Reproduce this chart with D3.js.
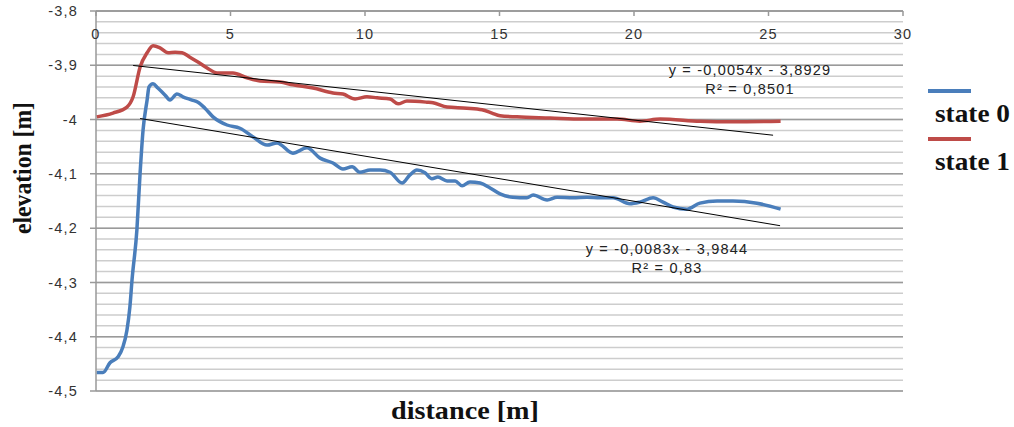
<!DOCTYPE html>
<html>
<head>
<meta charset="utf-8">
<script src="https://cdn.jsdelivr.net/npm/d3@7"></script>
<style>
  html, body { margin: 0; padding: 0; background: #fff; }
  svg text { font-family: "Liberation Sans", Arial, sans-serif; letter-spacing: 1.2px; }
  svg text.title { font-family: "Liberation Serif", "Times New Roman", serif; font-weight: bold; fill: #111; letter-spacing: 0; }
</style>
</head>
<body>
<svg id="chart" width="1014" height="427"></svg>
<script>
// state 0 (blue)
const dist0 = [0.03, 0.26, 0.52, 0.82, 1.00, 1.15, 1.26, 1.34, 1.52, 1.64, 1.75, 1.90, 1.97, 2.12, 2.30,
  2.57, 2.75, 3.01, 3.23, 3.57, 3.79, 4.05, 4.35, 4.87, 5.35, 5.84, 6.36, 6.73, 7.32, 7.84, 8.33, 8.81,
  9.18, 9.52, 9.81, 10.19, 10.56, 10.93, 11.38, 11.67, 11.93, 12.23, 12.49, 12.71, 13.05, 13.35, 13.61,
  13.90, 14.28, 14.65, 15.02, 15.50, 16.02, 16.25, 16.77, 17.14, 17.73, 18.25, 18.74, 19.22, 19.85,
  20.22, 20.71, 21.08, 21.45, 21.97, 22.45, 23.09, 23.68, 24.57, 25.45];
const elev0 = [-4.466, -4.466, -4.448, -4.437, -4.419, -4.388, -4.345, -4.295, -4.203, -4.098, -4.019,
  -3.964, -3.940, -3.934, -3.942, -3.955, -3.964, -3.953, -3.958, -3.964, -3.968, -3.979, -3.995, -4.010,
  -4.016, -4.032, -4.047, -4.043, -4.062, -4.052, -4.071, -4.080, -4.091, -4.087, -4.097, -4.093, -4.093,
  -4.097, -4.117, -4.102, -4.093, -4.098, -4.109, -4.106, -4.113, -4.113, -4.122, -4.115, -4.117, -4.126,
  -4.137, -4.143, -4.144, -4.139, -4.148, -4.143, -4.144, -4.143, -4.144, -4.144, -4.155, -4.152, -4.144,
  -4.152, -4.161, -4.165, -4.154, -4.150, -4.150, -4.154, -4.165];

// state 1 (red)
const dist1 = [0.03, 0.63, 1.15, 1.38, 1.64, 1.90, 2.12, 2.38, 2.68, 2.94, 3.20, 3.49, 3.79, 4.13, 4.50,
  5.09, 5.61, 6.10, 6.84, 7.32, 8.07, 8.81, 9.18, 9.63, 10.07, 10.45, 10.93, 11.23, 11.56, 12.30, 12.53,
  13.05, 13.79, 14.35, 14.72, 15.02, 15.65, 16.88, 18.10, 19.37, 20.22, 20.97, 22.45, 23.68, 25.45];
const elev1 = [-3.995, -3.988, -3.977, -3.958, -3.903, -3.877, -3.864, -3.868, -3.877, -3.876, -3.877,
  -3.885, -3.894, -3.905, -3.914, -3.914, -3.923, -3.929, -3.931, -3.936, -3.942, -3.951, -3.953, -3.962,
  -3.958, -3.960, -3.962, -3.971, -3.966, -3.968, -3.969, -3.977, -3.979, -3.982, -3.988, -3.993, -3.995,
  -3.997, -3.999, -3.999, -4.003, -3.999, -4.003, -4.004, -4.003];

// linear trends: slope, intercept, x range, labels
const trend0 = { slope: -0.0083, intercept: -3.9844, from: 1.64, to: 25.43, eq: "y = -0,0083x - 3,9844", r2: "R² = 0,83" };
const trend1 = { slope: -0.0054, intercept: -3.8929, from: 1.38, to: 25.17, eq: "y = -0,0054x - 3,8929", r2: "R² = 0,8501" };

const xTicks = [0, 5, 10, 15, 20, 25, 30];
const yTicks = [-3.8, -3.9, -4.0, -4.1, -4.2, -4.3, -4.4, -4.5];
const seriesNames = ["state 0", "state 1"];
const colors = ["#4a7ebb", "#be4b48"];

const svg = d3.select('#chart');
const plotL = 96, plotR = 903, plotT = 11, plotB = 391;

const x = d3.scaleLinear().domain([0, 30]).range([plotL, plotR]);
const y = d3.scaleLinear().domain([-3.8, -4.5]).range([plotT, plotB]);
const fmt = v => String(+v.toFixed(1)).replace('.', ',');

// minor grid every 0.02
const minor = d3.range(0, 36).map(i => -3.8 - i * 0.02);
svg.append('g').selectAll('line').data(minor).enter().append('line')
  .attr('x1', plotL).attr('x2', plotR)
  .attr('y1', d => y(d)).attr('y2', d => y(d))
  .attr('stroke', '#cdcdcd').attr('stroke-width', 1.5);

// major grid
svg.append('g').selectAll('line').data(yTicks).enter().append('line')
  .attr('x1', plotL - 6).attr('x2', plotR)
  .attr('y1', d => y(d)).attr('y2', d => y(d))
  .attr('stroke', '#9a9a9a').attr('stroke-width', 1.5);

// y axis
svg.append('line').attr('x1', plotL).attr('x2', plotL).attr('y1', plotT).attr('y2', plotB)
  .attr('stroke', '#999').attr('stroke-width', 1.5);
svg.append('g').selectAll('text').data(yTicks).enter().append('text')
  .attr('x', plotL - 18).attr('y', d => y(d)).attr('dy', '0.35em')
  .attr('text-anchor', 'end').attr('font-size', 14.5).attr('fill', '#333')
  .text(fmt);

// x axis at the top
svg.append('line').attr('x1', plotL).attr('x2', plotR).attr('y1', plotT).attr('y2', plotT)
  .attr('stroke', '#999').attr('stroke-width', 1.5);
svg.append('g').selectAll('line').data(xTicks).enter().append('line')
  .attr('x1', d => x(d)).attr('x2', d => x(d)).attr('y1', plotT).attr('y2', plotT + 5)
  .attr('stroke', '#999').attr('stroke-width', 1.5);
svg.append('g').selectAll('text').data(xTicks).enter().append('text')
  .attr('x', d => x(d)).attr('y', plotT + 23).attr('dy', '0.35em')
  .attr('text-anchor', 'middle').attr('font-size', 14.5).attr('fill', '#333')
  .text(d => d);

// series
const line = d3.line().x(d => x(d[0])).y(d => y(d[1])).curve(d3.curveMonotoneX);
[[dist0, elev0], [dist1, elev1]].forEach((s, i) => {
  svg.append('path').datum(d3.zip(s[0], s[1]))
    .attr('d', line).attr('fill', 'none')
    .attr('stroke', colors[i]).attr('stroke-width', 3.5)
    .attr('stroke-linejoin', 'round');
});

// trend lines
[trend0, trend1].forEach(t => {
  svg.append('line')
    .attr('x1', x(t.from)).attr('y1', y(t.slope * t.from + t.intercept))
    .attr('x2', x(t.to)).attr('y2', y(t.slope * t.to + t.intercept))
    .attr('stroke', '#000').attr('stroke-width', 1);
});

// equations
function eqLabel(t, cx, cy) {
  svg.append('text').attr('x', cx).attr('y', cy).attr('dy', '0.35em')
    .attr('text-anchor', 'middle').attr('font-size', 14.5).attr('fill', '#222').text(t.eq);
  svg.append('text').attr('x', cx).attr('y', cy + 19).attr('dy', '0.35em')
    .attr('text-anchor', 'middle').attr('font-size', 14.5).attr('fill', '#222').text(t.r2);
}
eqLabel(trend1, 750, 70);
eqLabel(trend0, 667, 249);

// legend
seriesNames.forEach((name, i) => {
  const ly = 91 + i * 48;
  svg.append('line').attr('x1', 928).attr('x2', 971).attr('y1', ly).attr('y2', ly)
    .attr('stroke', colors[i]).attr('stroke-width', 4);
  svg.append('text').attr('class', 'title').attr('x', 935).attr('y', ly + 31)
    .attr('font-size', 25).attr('textLength', 75).attr('lengthAdjust', 'spacingAndGlyphs')
    .text(name);
});

// axis titles
svg.append('text').attr('class', 'title')
  .attr('x', 465).attr('y', 419).attr('text-anchor', 'middle')
  .attr('font-size', 26).attr('textLength', 148).attr('lengthAdjust', 'spacingAndGlyphs')
  .text('distance [m]');
svg.append('text').attr('class', 'title')
  .attr('transform', 'translate(31,168) rotate(-90)').attr('text-anchor', 'middle')
  .attr('font-size', 25).attr('textLength', 132).attr('lengthAdjust', 'spacingAndGlyphs')
  .text('elevation [m]');
</script>
</body>
</html>
